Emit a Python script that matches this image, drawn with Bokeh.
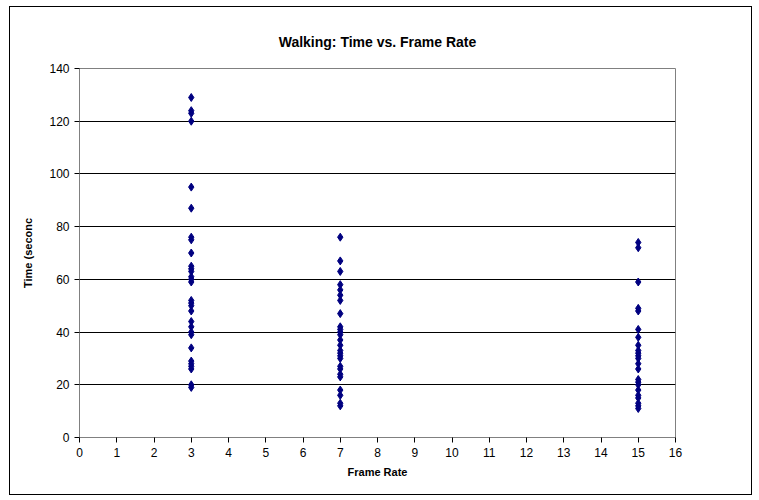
from bokeh.plotting import figure
from bokeh.models import Range1d, FixedTicker, InlineStyleSheet
from bokeh.embed import file_html
from bokeh.resources import INLINE

# Completion times (seconds) grouped by frame rate
rate_3 = [129, 124, 123, 120, 95, 87, 76, 75, 70, 65, 64, 63, 61, 60, 59,
          52, 51, 50, 48, 44, 42, 40, 39, 34, 29, 28, 27, 26, 20, 19]
rate_7 = [76, 67, 63, 58, 56, 54, 52, 47, 42, 41, 40, 39, 37, 35, 33, 32,
          31, 30, 27, 26, 24, 23, 18, 16, 13, 12]
rate_15 = [74, 72, 59, 49, 48, 41, 38, 35, 33, 32, 31, 30, 28, 26, 22, 21,
           20, 18, 16, 15, 13, 12, 11]

frame_rates = [3, 7, 15]
times = [rate_3, rate_7, rate_15]

x_ticks = list(range(0, 17))
y_ticks = list(range(0, 141, 20))

xs, ys = [], []
for fr, vals in zip(frame_rates, times):
    xs += [fr] * len(vals)
    ys += vals

FONT = "Liberation Sans"

p = figure(width=759, height=500, output_backend="svg", toolbar_location=None,
           x_range=Range1d(0, 16), y_range=Range1d(0, 140),
           min_border_left=79, min_border_right=84, min_border_top=68,
           min_border_bottom=63, title="Walking: Time vs. Frame Rate")

# thin black frame around the whole chart
p.stylesheets = [InlineStyleSheet(css="""
:host { position: relative; }
:host::after {
  content: ""; position: absolute; left: 9px; top: 6px;
  width: 743px; height: 489px; box-sizing: border-box;
  border: 1px solid #000; pointer-events: none; z-index: 10;
}
""")]

p.title.align = "center"
p.title.text_font = FONT
p.title.text_font_size = "14px"
p.title.text_font_style = "bold"
p.title.text_color = "black"
p.title.offset = -6
p.title.standoff = 38

p.background_fill_color = "white"
p.border_fill_color = "white"
p.outline_line_color = "#808080"
p.outline_line_width = 1

p.xgrid.visible = False
p.ygrid.grid_line_color = "#000000"
p.ygrid.grid_line_width = 1

for ax in (p.xaxis, p.yaxis):
    ax.axis_line_color = "#808080"
    ax.major_tick_line_color = "#000000"
    ax.major_tick_in = 0
    ax.major_tick_out = 5
    ax.minor_tick_line_color = None
    ax.major_label_text_font = FONT
    ax.major_label_text_font_size = "12px"
    ax.major_label_text_color = "black"
    ax.axis_label_text_font = FONT
    ax.axis_label_text_font_size = "11px"
    ax.axis_label_text_font_style = "bold"
    ax.axis_label_text_color = "black"

p.xaxis.ticker = FixedTicker(ticks=x_ticks)
p.yaxis.ticker = FixedTicker(ticks=y_ticks)
p.xaxis.axis_label = "Frame Rate"
p.xaxis.axis_label_standoff = 6
p.yaxis.axis_label = "Time (seconc"
p.yaxis.axis_label_standoff = 12

p.scatter(xs, ys, marker="diamond", size=8, fill_color="#000080",
          line_color="#000080")

open("out.html", "w").write(file_html(p, INLINE))
